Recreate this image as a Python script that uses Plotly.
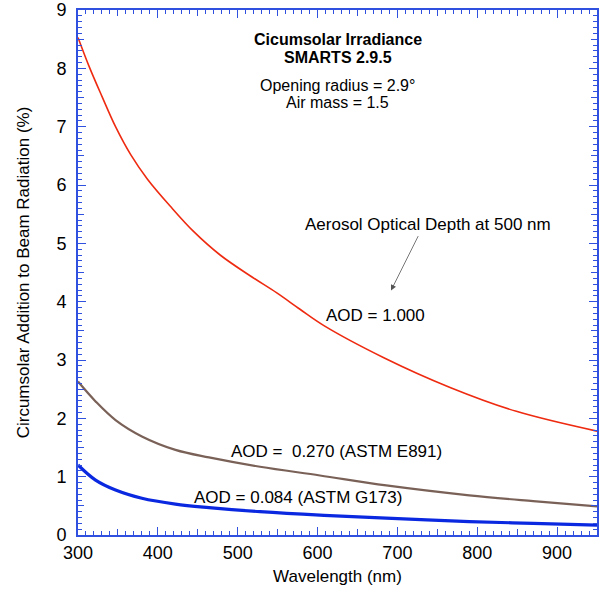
import plotly.graph_objects as go

# Data
wl_red = [300, 314, 330, 347, 366, 387, 416, 445, 478, 516, 549, 578, 608, 683, 766, 849, 950]
v_red = [8.53, 8.03, 7.52, 7.00, 6.52, 6.10, 5.63, 5.20, 4.80, 4.44, 4.15, 3.87, 3.59, 3.04, 2.53, 2.12, 1.78]

wl_brown = [300, 322, 347, 380, 422, 464, 528, 603, 686, 790, 870, 950]
v_brown = [2.63, 2.29, 1.97, 1.69, 1.46, 1.33, 1.17, 1.02, 0.85, 0.68, 0.58, 0.49]

wl_blue = [300, 322, 347, 380, 422, 464, 528, 603, 686, 790, 870, 950]
v_blue = [1.20, 0.94, 0.77, 0.63, 0.53, 0.47, 0.40, 0.34, 0.29, 0.23, 0.20, 0.17]

FONT = "Liberation Sans, Arial, Helvetica, sans-serif"
AXC = "#3050e0"

fig = go.Figure()
fig.add_trace(go.Scatter(x=wl_red, y=v_red, mode="lines",
                         line=dict(color="#ee2a10", width=1.6, shape="spline", smoothing=1.0)))
fig.add_trace(go.Scatter(x=wl_brown, y=v_brown, mode="lines",
                         line=dict(color="#7a6158", width=2.2, shape="spline", smoothing=1.0)))
fig.add_trace(go.Scatter(x=wl_blue, y=v_blue, mode="lines",
                         line=dict(color="#0a28e0", width=3.2, shape="spline", smoothing=1.0)))
# invisible helper trace for the medium-tick overlay axes
fig.add_trace(go.Scatter(x=[300, 950], y=[0, 9], mode="markers", marker=dict(opacity=0),
                         xaxis="x2", yaxis="y2", hoverinfo="skip"))

fig.update_layout(
    width=603, height=594,
    margin=dict(l=78, r=6, t=10, b=59),
    paper_bgcolor="white", plot_bgcolor="white",
    showlegend=False,
    font=dict(family=FONT, size=17, color="black"),
    xaxis=dict(range=[300, 950], dtick=100, tick0=300, ticks="inside", ticklen=8, tickwidth=1,
               tickcolor=AXC, showline=True, linecolor=AXC, linewidth=2, mirror="ticks",
               showgrid=False, zeroline=False, automargin=False,
               minor=dict(dtick=10, ticks="inside", ticklen=4, tickcolor=AXC, showgrid=False),
               tickfont=dict(size=18),
               title=dict(text="Wavelength (nm)", font=dict(size=17), standoff=9)),
    yaxis=dict(range=[0, 9], dtick=1, ticks="inside", ticklen=8, tickwidth=1,
               tickcolor=AXC, showline=True, linecolor=AXC, linewidth=2, mirror="ticks",
               showgrid=False, zeroline=False, automargin=False, ticklabelstandoff=6,
               minor=dict(dtick=0.1, ticks="inside", ticklen=4, tickcolor=AXC, showgrid=False),
               tickfont=dict(size=18),
               title=dict(text="Circumsolar Addition to Beam Radiation (%)", font=dict(size=17), standoff=22)),
    xaxis2=dict(overlaying="x", range=[300, 950], dtick=50, tick0=300, ticks="inside", ticklen=6,
                tickcolor=AXC, showticklabels=False, showgrid=False, zeroline=False, showline=False,
                mirror="ticks", anchor="y2", automargin=False),
    yaxis2=dict(overlaying="y", range=[0, 9], dtick=0.5, ticks="inside", ticklen=6,
                tickcolor=AXC, showticklabels=False, showgrid=False, zeroline=False, showline=False,
                mirror="ticks", anchor="x2", automargin=False),
)

ann = [
    (0.5, 0.943, "<b>Cicumsolar Irradiance</b>"),
    (0.5, 0.910, "<b>SMARTS 2.9.5</b>"),
    (0.5, 0.857, "Opening radius = 2.9°"),
    (0.5, 0.824, "Air mass = 1.5"),
]
for x, y, t in ann:
    fig.add_annotation(xref="paper", yref="paper", x=x, y=y, text=t,
                       showarrow=False, font=dict(size=16), xanchor="center", yanchor="middle")

labels = [
    (738, 5.32, "Aerosol Optical Depth at 500 nm"),
    (672, 3.77, "AOD = 1.000"),
    (624, 1.44, "AOD =  0.270 (ASTM E891)"),
    (576, 0.65, "AOD = 0.084 (ASTM G173)"),
]
for x, y, t in labels:
    fig.add_annotation(x=x, y=y, text=t, showarrow=False, font=dict(size=17),
                       xanchor="center", yanchor="middle")

fig.add_annotation(x=692, y=4.19, ax=727, ay=5.15, xref="x", yref="y", axref="x", ayref="y",
                   text="", showarrow=True, arrowhead=2, arrowsize=1.4, arrowwidth=0.8,
                   arrowcolor="#555555")

fig.write_html("out.html", config={"displayModeBar": False},
               post_script="document.body.style.margin='0';")
